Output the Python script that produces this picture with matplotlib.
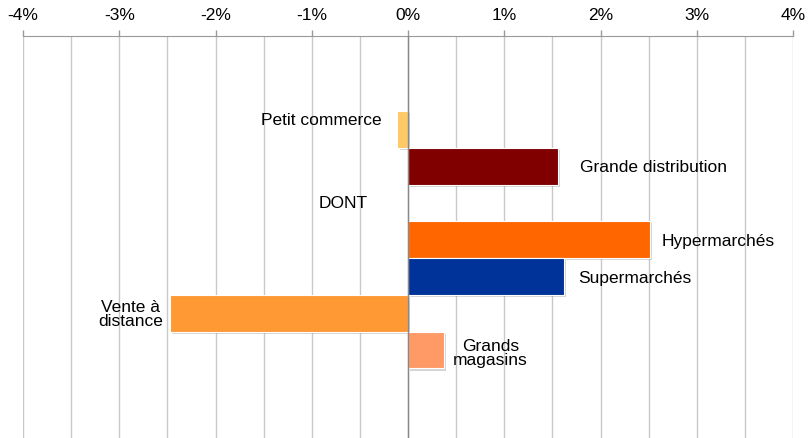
import matplotlib.pyplot as plt
import matplotlib.patheffects as pe
from matplotlib.ticker import MultipleLocator, FuncFormatter

plt.rcParams["font.family"] = ["Liberation Sans", "DejaVu Sans"]

# Évolution par forme de vente (%)
categories = ["Petit commerce", "Grande distribution", "DONT", "Hypermarchés",
              "Supermarchés", "Vente à\ndistance", "Grands\nmagasins"]
values = [-0.11, 1.56, 0.0, 2.51, 1.62, -2.47, 0.37]
colors = ["#FFC966", "#800000", "none", "#FF6600", "#003399", "#FF9933", "#FF9966"]

# label placement relative to bar end: (dx px, dy px, ha)
label_pos = [(-16, 10, "right"), (22, 0, "left"), (-65, 0, "center"),
             (12, -1, "left"), (14, -1, "left"), (-40, 0, "center"), (47, -2, "center")]

fig = plt.figure(figsize=(8.08, 4.39), dpi=100)
ax = fig.add_axes([0.0285, 0.0, 0.953, 0.9157])

ypos = list(range(len(categories)))
shadow = [pe.SimplePatchShadow(offset=(1.5, -1.5), shadow_rgbFace="#888888", alpha=0.35),
          pe.Normal()]
for y, v, c in zip(ypos, values, colors):
    if c == "none":
        continue
    ax.barh(y, v, height=1.0, color=c, edgecolor="white", linewidth=0.8,
            path_effects=shadow, zorder=3)

for y, v, lab, (dx, dy, ha) in zip(ypos, values, categories, label_pos):
    ax.annotate(lab, xy=(v, y), xytext=(dx, dy), textcoords="offset pixels",
                ha=ha, va="center", fontsize=12.5, color="black",
                linespacing=0.92, multialignment="center", zorder=4)

ax.set_xlim(-4, 4)
ax.set_ylim(8.39, -2.54)

ax.xaxis.set_major_locator(MultipleLocator(1))
ax.xaxis.set_minor_locator(MultipleLocator(0.5))
ax.xaxis.set_major_formatter(FuncFormatter(lambda x, p: f"{x:.0f}%"))
ax.xaxis.tick_top()
ax.tick_params(axis="x", which="major", direction="out", length=4, width=1,
               color="#999999", labelsize=12.5, pad=6)
ax.tick_params(axis="x", which="minor", length=0)
ax.set_yticks([])

ax.grid(axis="x", which="both", color="#c8c8c8", linewidth=1, zorder=0)
ax.axvline(0, color="#888888", linewidth=1, zorder=5)

for s in ["left", "right", "bottom"]:
    ax.spines[s].set_visible(False)
ax.spines["top"].set_color("#999999")
ax.set_axisbelow(True)

fig.savefig("out.png", dpi=100)
